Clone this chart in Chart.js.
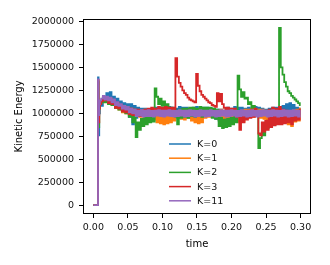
<!DOCTYPE html>
<html>
<head>
<meta charset="utf-8">
<script src="https://cdn.jsdelivr.net/npm/chart.js@4.4.0/dist/chart.umd.min.js"></script>
<style>
  html, body { margin: 0; padding: 0; background: #fff; }
  #wrap { width: 330px; height: 265px; position: relative; }
</style>
</head>
<body>
<div id="wrap"><canvas id="chart"></canvas></div>
<script>
// time samples (finer right after the start)
const times = [0, 0.003, 0.0065, 0.007, 0.008, 0.009, 0.01,
  0.0125, 0.015, 0.0175, 0.02, 0.0225, 0.025, 0.0275, 0.03,
  0.0325, 0.035, 0.0375, 0.04, 0.0425, 0.045, 0.0475, 0.05,
  0.0525, 0.055, 0.0575, 0.06, 0.0625, 0.065, 0.0675, 0.07,
  0.0725, 0.075, 0.0775, 0.08, 0.0825, 0.085, 0.0875, 0.09,
  0.0925, 0.095, 0.0975, 0.1, 0.1025, 0.105, 0.1075, 0.11,
  0.1125, 0.115, 0.1175, 0.12, 0.1225, 0.125, 0.1275, 0.13,
  0.1325, 0.135, 0.1375, 0.14, 0.1425, 0.145, 0.1475, 0.15,
  0.1525, 0.155, 0.1575, 0.16, 0.1625, 0.165, 0.1675, 0.17,
  0.1725, 0.175, 0.1775, 0.18, 0.1825, 0.185, 0.1875, 0.19,
  0.1925, 0.195, 0.1975, 0.2, 0.2025, 0.205, 0.2075, 0.21,
  0.2125, 0.215, 0.2175, 0.22, 0.2225, 0.225, 0.2275, 0.23,
  0.2325, 0.235, 0.2375, 0.24, 0.2425, 0.245, 0.2475, 0.25,
  0.2525, 0.255, 0.2575, 0.26, 0.2625, 0.265, 0.2675, 0.27,
  0.2725, 0.275, 0.2775, 0.28, 0.2825, 0.285, 0.2875, 0.29,
  0.2925, 0.295, 0.2975, 0.3];

const labels = ['K=0', 'K=1', 'K=2', 'K=3', 'K=11'];
const colors = ['#1f77b4', '#ff7f0e', '#2ca02c', '#d62728', '#9467bd'];

const k0 = [0, 0, 0, 1390000, 760000, 1000000, 1100000,
  1080000, 1180000, 1130000, 1220000, 1150000, 1230000, 1120000, 1180000,
  1080000, 1160000, 1060000, 1130000, 1040000, 1110000, 1030000, 1100000,
  960000, 1100000, 880000, 1080000, 950000, 1060000, 970000, 1050000,
  980000, 1050000, 970000, 1040000, 980000, 1050000, 990000, 1060000,
  970000, 1060000, 980000, 1050000, 990000, 1060000, 980000, 1070000,
  990000, 1060000, 970000, 1050000, 980000, 1070000, 990000, 1060000,
  980000, 1060000, 970000, 1050000, 990000, 1060000, 980000, 1070000,
  980000, 1050000, 990000, 1060000, 970000, 1060000, 980000, 1050000,
  960000, 1050000, 940000, 1040000, 920000, 1040000, 910000, 1030000,
  940000, 1060000, 950000, 1050000, 970000, 1070000, 980000, 1060000,
  980000, 1060000, 970000, 1050000, 990000, 1060000, 980000, 1050000,
  980000, 1070000, 990000, 1060000, 970000, 1050000, 980000, 1040000,
  980000, 1050000, 990000, 1060000, 970000, 1060000, 980000, 1070000,
  990000, 1080000, 1000000, 1100000, 1000000, 1110000, 990000, 1090000,
  980000, 1060000, 990000, 1050000];

const k1 = [0, 0, 0, 1350000, 900000, 1050000, 1100000,
  1120000, 1170000, 1130000, 1170000, 1100000, 1160000, 1090000, 1130000,
  1060000, 1110000, 1040000, 1090000, 1010000, 1080000, 1000000, 1060000,
  980000, 1050000, 960000, 1040000, 970000, 1030000, 960000, 1030000,
  960000, 1040000, 950000, 1030000, 940000, 1030000, 930000, 1020000,
  900000, 1020000, 890000, 1010000, 880000, 1010000, 890000, 1000000,
  900000, 1010000, 920000, 1020000, 950000, 1030000, 940000, 1020000,
  930000, 1020000, 950000, 1030000, 920000, 1020000, 900000, 1010000,
  890000, 1010000, 900000, 1020000, 950000, 1030000, 960000, 1040000,
  960000, 1040000, 950000, 1030000, 930000, 1040000, 920000, 1030000,
  950000, 1050000, 960000, 1040000, 940000, 1030000, 910000, 1020000,
  900000, 1030000, 910000, 1040000, 950000, 1040000, 960000, 1050000,
  960000, 1040000, 970000, 1040000, 950000, 1040000, 940000, 1030000,
  930000, 1020000, 920000, 1030000, 950000, 1040000, 940000, 1030000,
  900000, 1030000, 910000, 1020000, 880000, 1010000, 860000, 1030000,
  910000, 1040000, 920000, 1050000];

const k2 = [0, 0, 0, 1340000, 850000, 1050000, 1100000,
  1120000, 1170000, 1120000, 1160000, 1100000, 1150000, 1090000, 1130000,
  1060000, 1110000, 1040000, 1090000, 1020000, 1080000, 1000000, 1060000,
  960000, 1040000, 900000, 1000000, 740000, 900000, 820000, 940000,
  860000, 960000, 880000, 970000, 900000, 980000, 910000, 1270000,
  1180000, 1100000, 1160000, 1080000, 1130000, 1050000, 1100000, 1020000,
  1060000, 980000, 1050000, 960000, 880000, 1040000, 950000, 1050000,
  960000, 1050000, 950000, 1060000, 970000, 1060000, 960000, 1050000,
  980000, 1070000, 960000, 1060000, 970000, 1060000, 980000, 1060000,
  950000, 1050000, 940000, 1040000, 860000, 950000, 840000, 930000,
  850000, 940000, 860000, 950000, 880000, 960000, 900000, 1410000,
  1260000, 1180000, 1230000, 1160000, 1170000, 1100000, 1120000, 1060000,
  1080000, 1010000, 1030000, 620000, 730000, 800000, 760000, 850000,
  840000, 920000, 860000, 940000, 880000, 960000, 900000, 1930000,
  1500000, 1420000, 1340000, 1290000, 1240000, 1220000, 1190000, 1170000,
  1150000, 1130000, 1110000, 1090000];

const k3 = [0, 0, 0, 1360000, 900000, 1050000, 1100000,
  1130000, 1180000, 1140000, 1170000, 1110000, 1160000, 1100000, 1140000,
  1060000, 1110000, 1050000, 1090000, 1020000, 1070000, 1010000, 1060000,
  990000, 1050000, 980000, 1040000, 980000, 1040000, 970000, 1030000,
  980000, 1040000, 990000, 1050000, 990000, 1060000, 1000000, 1050000,
  1000000, 1070000, 990000, 1060000, 1000000, 1070000, 1010000, 1060000,
  990000, 1060000, 1000000, 1600000, 1400000, 1330000, 1290000, 1250000,
  1220000, 1200000, 1170000, 1150000, 1140000, 1130000, 1120000, 1430000,
  1300000, 1240000, 1200000, 1180000, 1160000, 1140000, 1120000, 1110000,
  1090000, 1080000, 1070000, 1220000, 1130000, 1210000, 1100000, 1060000,
  1000000, 1060000, 990000, 1050000, 980000, 1050000, 960000, 1020000,
  820000, 1000000, 900000, 1020000, 930000, 1030000, 950000, 1040000,
  960000, 1050000, 980000, 780000, 760000, 900000, 800000, 920000,
  820000, 1040000, 850000, 1060000, 870000, 1050000, 880000, 1070000,
  880000, 1040000, 890000, 1030000, 900000, 1020000, 880000, 1010000,
  920000, 1030000, 930000, 1040000];

const k11 = [0, 0, 0, 1370000, 980000, 1100000, 1140000,
  1160000, 1190000, 1150000, 1180000, 1140000, 1170000, 1120000, 1150000,
  1090000, 1120000, 1080000, 1100000, 1050000, 1080000, 1040000, 1070000,
  1010000, 1050000, 1000000, 1040000, 970000, 1030000, 975000, 1035000,
  965000, 1030000, 970000, 1035000, 970000, 1025000, 965000, 1030000,
  975000, 1035000, 970000, 1030000, 965000, 1030000, 975000, 1035000,
  970000, 1030000, 965000, 1025000, 970000, 1035000, 975000, 1030000,
  965000, 1030000, 970000, 1035000, 975000, 1030000, 965000, 1025000,
  970000, 1035000, 975000, 1030000, 965000, 1030000, 970000, 1035000,
  975000, 1025000, 965000, 1030000, 970000, 1035000, 975000, 1030000,
  965000, 1030000, 970000, 1035000, 975000, 1030000, 965000, 1025000,
  970000, 1035000, 975000, 1030000, 965000, 1030000, 970000, 1035000,
  975000, 1025000, 965000, 1030000, 970000, 1035000, 975000, 1030000,
  965000, 1030000, 970000, 1035000, 975000, 1030000, 965000, 1025000,
  970000, 1035000, 975000, 1030000, 965000, 1030000, 970000, 1035000,
  975000, 1030000, 965000, 1030000];

const series = [k0, k1, k2, k3, k11];
const xTicks = [0, 0.05, 0.1, 0.15, 0.2, 0.25, 0.3];
const yTicks = [0, 250000, 500000, 750000, 1000000, 1250000, 1500000, 1750000, 2000000];

const FONT = 'DejaVu Sans';

// box around the plot + legend inside the axes
const framePlugin = {
  id: 'frame',
  afterDraw(chart) {
    const { ctx, chartArea: a } = chart;
    ctx.save();
    ctx.strokeStyle = '#000';
    ctx.lineWidth = 1;
    ctx.strokeRect(a.left + 0.5, a.top + 0.5, a.right - a.left - 1, a.bottom - a.top - 1);

    ctx.font = '9.5px "' + FONT + '"';
    ctx.textBaseline = 'middle';
    ctx.fillStyle = '#111';
    chart.data.datasets.forEach((ds, i) => {
      const y = 144 + i * 14.2;
      ctx.strokeStyle = ds.borderColor;
      ctx.lineWidth = 1.5;
      ctx.beginPath();
      ctx.moveTo(169, y);
      ctx.lineTo(191, y);
      ctx.stroke();
      ctx.fillText(ds.label, 197, y + 0.5);
    });
    ctx.restore();
  }
};

// noisy signals: stepped so the jitter reads as a solid band
const datasets = series.map((vals, i) => ({
  label: labels[i],
  data: times.map((t, j) => ({ x: t, y: vals[j] })),
  borderColor: colors[i],
  borderWidth: 1.8,
  pointRadius: 0,
  fill: false,
  stepped: 'middle',
  order: series.length - 1 - i
}));

new Chart(document.getElementById('chart'), {
  type: 'line',
  data: { datasets },
  options: {
    responsive: true,
    maintainAspectRatio: false,
    animation: false,
    layout: { padding: { top: 19, right: 19, left: 0, bottom: 0 } },
    plugins: { legend: { display: false }, tooltip: { enabled: false } },
    scales: {
      x: {
        type: 'linear',
        min: -0.015,
        max: 0.315,
        afterBuildTicks: s => { s.ticks = xTicks.map(v => ({ value: v })); },
        afterFit: s => { s.height = 51; },
        grid: { display: true, drawOnChartArea: false, drawTicks: true, tickLength: 4, color: '#000' },
        border: { display: false },
        ticks: {
          color: '#111', padding: 4, maxRotation: 0, autoSkip: false,
          font: { family: FONT, size: 9.5 },
          callback: v => v.toFixed(2)
        },
        title: {
          display: true, text: 'time', color: '#000',
          font: { family: FONT, size: 10 },
          padding: { top: 0, bottom: 15 }
        }
      },
      y: {
        type: 'linear',
        min: -96500,
        max: 2026500,
        afterBuildTicks: s => { s.ticks = yTicks.map(v => ({ value: v })); },
        afterFit: s => { s.width = 83; },
        grid: { display: true, drawOnChartArea: false, drawTicks: true, tickLength: 4, color: '#000' },
        border: { display: false },
        ticks: {
          color: '#111', padding: 5, autoSkip: false,
          font: { family: FONT, size: 9.5 },
          callback: v => String(v)
        },
        title: {
          display: true, text: 'Kinetic Energy', color: '#000',
          font: { family: FONT, size: 10 },
          padding: { top: 13, bottom: 0 }
        }
      }
    }
  },
  plugins: [framePlugin]
});
</script>
</body>
</html>
